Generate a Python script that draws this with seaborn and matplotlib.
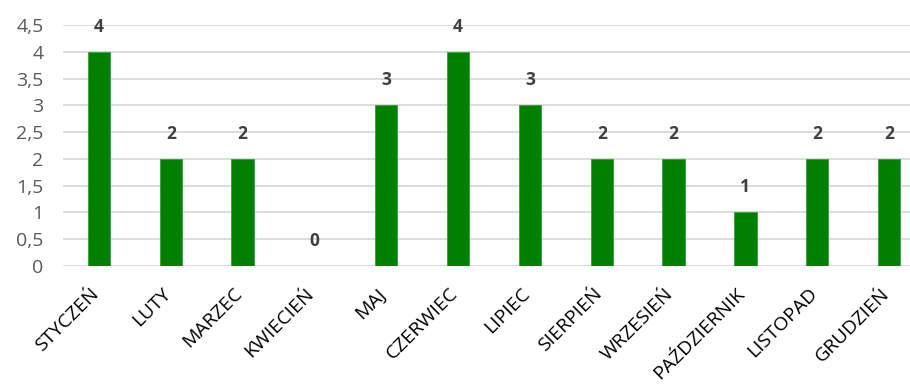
import matplotlib
matplotlib.use("Agg")
import matplotlib.pyplot as plt
import matplotlib.transforms as mtransforms
import pandas as pd
import seaborn as sns
from matplotlib.ticker import FuncFormatter

months = ["STYCZEŃ", "LUTY", "MARZEC", "KWIECIEŃ", "MAJ", "CZERWIEC",
          "LIPIEC", "SIERPIEŃ", "WRZESIEŃ", "PAŹDZIERNIK", "LISTOPAD", "GRUDZIEŃ"]
counts = [4, 2, 2, 0, 3, 4, 3, 2, 2, 1, 2, 2]
y_ticks = [0, 0.5, 1, 1.5, 2, 2.5, 3, 3.5, 4, 4.5]

df = pd.DataFrame({"month": months, "count": counts})

sns.set_theme(style="white")
plt.rcParams["font.family"] = ["Open Sans", "DejaVu Sans"]

fig = plt.figure(figsize=(9.1, 3.85), dpi=100)
ax = fig.add_axes([63 / 910, 119 / 385, 862 / 910, 241 / 385])

sns.barplot(data=df, x="month", y="count", color="#008000", saturation=1,
            width=0.31, edgecolor="#3c9a3c", linewidth=0.6, ax=ax, zorder=3)

ax.set_ylim(0, 4.5)
ax.set_yticks(y_ticks)
ax.yaxis.set_major_formatter(FuncFormatter(lambda v, p: f"{v:g}".replace(".", ",")))
ax.grid(axis="y", color="#d9d9d9", linewidth=1.3, zorder=0)
ax.set_axisbelow(True)
for s in ax.spines.values():
    s.set_visible(False)
ax.set_xlabel("")
ax.set_ylabel("")
ax.tick_params(axis="y", length=0, pad=14, labelsize=14, labelcolor="#595959")
ax.tick_params(axis="x", length=0, pad=18, labelsize=14, labelcolor="#000000")

# nudge month labels slightly left
shift = mtransforms.ScaledTranslation(-0.03, 0, fig.dpi_scale_trans)
for lbl in ax.get_xticklabels():
    lbl.set_rotation(45)
    lbl.set_ha("right")
    lbl.set_va("center")
    lbl.set_rotation_mode("anchor")
    lbl.set_transform(lbl.get_transform() + shift)

for i, v in enumerate(counts):
    ax.annotate(str(v), (i, v), xytext=(0, 18), textcoords="offset points",
                ha="center", va="center", fontsize=12.5, fontweight="bold",
                color="#404040")

fig.savefig("out.png", dpi=100)
